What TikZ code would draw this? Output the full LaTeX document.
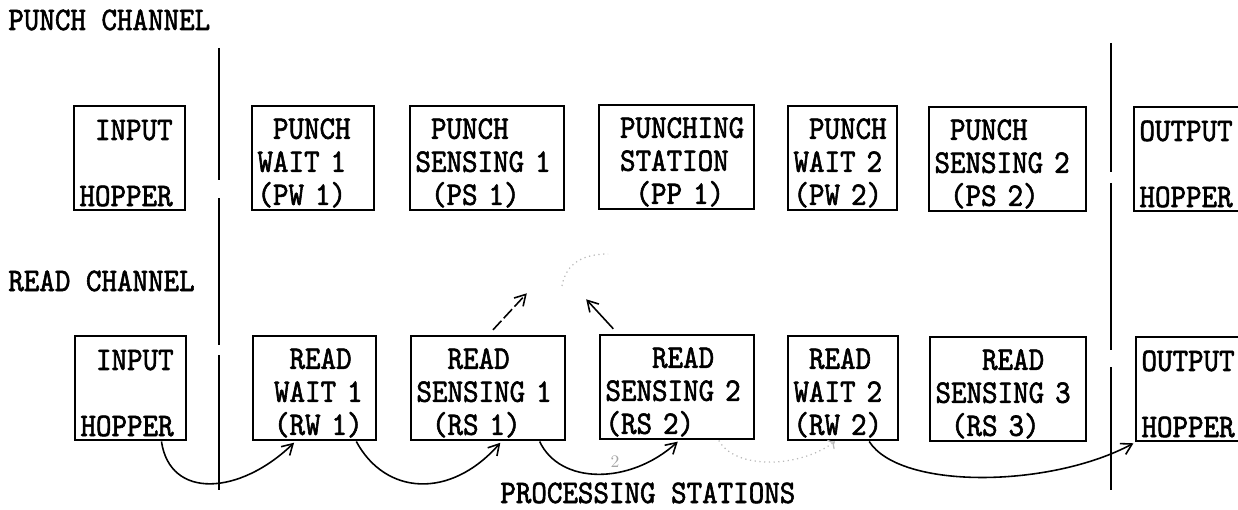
\documentclass[tikz,border=0pt]{standalone}
\usepackage{fontspec}
\setmonofont{lmmono10-regular.otf}[FakeStretch=0.9,FakeBold=1.8]
\usetikzlibrary{arrows.meta}
\newcommand{\boxfont}{\ttfamily\fontsize{18.7pt}{18.8pt}\selectfont}
\newcommand{\pad}{\hphantom{0}}

\begin{document}
\begin{tikzpicture}[x=0.02cm,y=-0.02cm,
  station/.style={draw,line width=1.4pt,anchor=north west,align=left,
    font=\boxfont,inner xsep=3pt,inner ysep=0pt,text height=17pt,
    minimum height=59.2pt},
  chanlabel/.style={anchor=base west,font=\boxfont,inner sep=0pt},
  divider/.style={line width=1.5pt},
  flow/.style={-{Straight Barb[length=6pt,width=7pt]},line width=0.9pt,shorten >=1pt},
  faint/.style={gray!55,line width=0.7pt,dotted}]
  \useasboundingbox (0,0) rectangle (1238,510);

  % channel dividers (broken vertical lines)
  \foreach \x/\a/\b in {219/48/180,219/198/345,219/355/490,
                        1111/43/172,1111/183/350,1111/367/490}{
    \draw[divider] (\x,\a) -- (\x,\b);
  }

  % stations: name/left/top/width/text
  \foreach \nm/\x/\y/\w/\txt in {
    ih1/73/105/111/{\pad INPUT\\\mbox{}\\HOPPER},
    pw1/251/105/122/{\pad PUNCH\\WAIT~1\\(PW~1)},
    ps1/409/105/154/{\pad PUNCH\\SENSING~1\\\pad(PS~1)},
    pp1/598/104/155/{\pad PUNCHING\\\pad STATION\\\pad\pad(PP~1)},
    pw2/787/105/109/{\pad PUNCH\\WAIT~2\\(PW~2)},
    ps2/928/106/157/{\pad PUNCH\\SENSING~2\\\pad(PS~2)},
    oh1/1133/106/105/{OUTPUT\\\mbox{}\\HOPPER},
    ih2/74/335/111/{\pad INPUT\\\mbox{}\\HOPPER},
    rw1/252/335/123/{\pad\pad READ\\\pad WAIT~1\\\pad(RW~1)},
    rs1/410/335/154/{\pad\pad READ\\SENSING~1\\\pad(RS~1)},
    rs2/599/334/154/{\pad\pad\pad READ\\SENSING~2\\(RS~2)},
    rw2/787/335/110/{\pad READ\\WAIT~2\\(RW~2)},
    rs3/929/336/156/{\pad\pad\pad READ\\SENSING~3\\\pad(RS~3)},
    oh2/1135/336/104/{OUTPUT\\\mbox{}\\HOPPER}}{
    \pgfmathsetmacro{\tw}{\w*0.569055-6}
    \node[station,text width=\tw pt] (\nm) at (\x,\y) {\txt};
  }

  % labels
  \node[chanlabel] (pch) at (8,30) {PUNCH CHANNEL};
  \node[chanlabel] (rch) at (8,291) {READ CHANNEL};
  \node[chanlabel] (proc) at (500,503) {PROCESSING STATIONS};

  % card flow in the read channel
  \draw[flow] (ih2.-60) .. controls (170,500) and (240,495) .. (rw1.-110);
  \draw[flow] (rw1.-52) .. controls (385,495) and (450,500) .. (rs1.-76);
  \draw[flow] (rs1.-46) .. controls (560,485) and (630,485) .. (rs2.-88);
  \draw[faint,->] (rs2.-52) .. controls (735,470) and (800,468) .. (rw2.-99);
  \draw[flow] (rw2.-64) .. controls (900,490) and (1050,488) .. (oh2.south west);
  \node[gray!70,font=\fontsize{10pt}{12pt}\selectfont,inner sep=0pt] (mark) at (615,462) {2};

  % pencilled arrows above the sensing stations
  \coordinate (u1) at (528,292);
  \coordinate (u2) at (585,298);
  \coordinate (a1) at (562,286);
  \coordinate (a2) at (608,254);
  \draw[flow,dash pattern=on 7pt off 2pt,shorten <=4pt] (rs1.north) -- (u1);
  \draw[flow,shorten <=4pt] (rs2.138) -- (u2);
  \draw[faint] (a1) .. controls (566,262) and (585,254) .. (a2);
\end{tikzpicture}
\end{document}
